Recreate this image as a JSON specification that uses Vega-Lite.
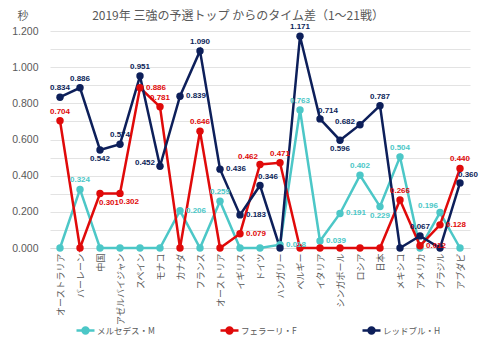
{
  "$schema": "https://vega.github.io/schema/vega-lite/v6.json",
  "width": 420,
  "height": 217,
  "autosize": {"type": "none"},
  "padding": {"left": 50, "top": 31, "right": 10, "bottom": 102},
  "background": "white",
  "title": {"text": "2019年 三強の予選トップ からのタイム差（1～21戦）", "anchor": "middle", "dx": -22, "offset": -13, "fontSize": 12, "font": "Noto Sans CJK JP", "color": "#595959", "fontWeight": "normal"},
  "config": {
    "view": {"stroke": null},
    "axis": {"labelFont": "Liberation Sans", "titleFont": "Noto Sans CJK JP"},
    "legend": {"labelFont": "Noto Sans CJK JP"}
  },
  "data": {"values": [
    {"race": "オーストラリア", "team": "メルセデス・M", "v": 0},
    {"race": "バーレーン", "team": "メルセデス・M", "v": 0.324},
    {"race": "中国", "team": "メルセデス・M", "v": 0},
    {"race": "アゼルバイジャン", "team": "メルセデス・M", "v": 0},
    {"race": "スペイン", "team": "メルセデス・M", "v": 0},
    {"race": "モナコ", "team": "メルセデス・M", "v": 0},
    {"race": "カナダ", "team": "メルセデス・M", "v": 0.206},
    {"race": "フランス", "team": "メルセデス・M", "v": 0},
    {"race": "オーストリア", "team": "メルセデス・M", "v": 0.259},
    {"race": "イギリス", "team": "メルセデス・M", "v": 0},
    {"race": "ドイツ", "team": "メルセデス・M", "v": 0},
    {"race": "ハンガリー", "team": "メルセデス・M", "v": 0.018},
    {"race": "ベルギー", "team": "メルセデス・M", "v": 0.763},
    {"race": "イタリア", "team": "メルセデス・M", "v": 0.039},
    {"race": "シンガポール", "team": "メルセデス・M", "v": 0.191},
    {"race": "ロシア", "team": "メルセデス・M", "v": 0.402},
    {"race": "日本", "team": "メルセデス・M", "v": 0.229},
    {"race": "メキシコ", "team": "メルセデス・M", "v": 0.504},
    {"race": "アメリカ", "team": "メルセデス・M", "v": 0},
    {"race": "ブラジル", "team": "メルセデス・M", "v": 0.196},
    {"race": "アブダビ", "team": "メルセデス・M", "v": 0},
    {"race": "オーストラリア", "team": "フェラーリ・F", "v": 0.704},
    {"race": "バーレーン", "team": "フェラーリ・F", "v": 0},
    {"race": "中国", "team": "フェラーリ・F", "v": 0.301},
    {"race": "アゼルバイジャン", "team": "フェラーリ・F", "v": 0.302},
    {"race": "スペイン", "team": "フェラーリ・F", "v": 0.886},
    {"race": "モナコ", "team": "フェラーリ・F", "v": 0.781},
    {"race": "カナダ", "team": "フェラーリ・F", "v": 0},
    {"race": "フランス", "team": "フェラーリ・F", "v": 0.646},
    {"race": "オーストリア", "team": "フェラーリ・F", "v": 0},
    {"race": "イギリス", "team": "フェラーリ・F", "v": 0.079},
    {"race": "ドイツ", "team": "フェラーリ・F", "v": 0.462},
    {"race": "ハンガリー", "team": "フェラーリ・F", "v": 0.471},
    {"race": "ベルギー", "team": "フェラーリ・F", "v": 0},
    {"race": "イタリア", "team": "フェラーリ・F", "v": 0},
    {"race": "シンガポール", "team": "フェラーリ・F", "v": 0},
    {"race": "ロシア", "team": "フェラーリ・F", "v": 0},
    {"race": "日本", "team": "フェラーリ・F", "v": 0},
    {"race": "メキシコ", "team": "フェラーリ・F", "v": 0.266},
    {"race": "アメリカ", "team": "フェラーリ・F", "v": 0.012},
    {"race": "ブラジル", "team": "フェラーリ・F", "v": 0.128},
    {"race": "アブダビ", "team": "フェラーリ・F", "v": 0.440},
    {"race": "オーストラリア", "team": "レッドブル・H", "v": 0.834},
    {"race": "バーレーン", "team": "レッドブル・H", "v": 0.886},
    {"race": "中国", "team": "レッドブル・H", "v": 0.542},
    {"race": "アゼルバイジャン", "team": "レッドブル・H", "v": 0.574},
    {"race": "スペイン", "team": "レッドブル・H", "v": 0.951},
    {"race": "モナコ", "team": "レッドブル・H", "v": 0.452},
    {"race": "カナダ", "team": "レッドブル・H", "v": 0.839},
    {"race": "フランス", "team": "レッドブル・H", "v": 1.090},
    {"race": "オーストリア", "team": "レッドブル・H", "v": 0.436},
    {"race": "イギリス", "team": "レッドブル・H", "v": 0.183},
    {"race": "ドイツ", "team": "レッドブル・H", "v": 0.346},
    {"race": "ハンガリー", "team": "レッドブル・H", "v": 0},
    {"race": "ベルギー", "team": "レッドブル・H", "v": 1.171},
    {"race": "イタリア", "team": "レッドブル・H", "v": 0.714},
    {"race": "シンガポール", "team": "レッドブル・H", "v": 0.596},
    {"race": "ロシア", "team": "レッドブル・H", "v": 0.682},
    {"race": "日本", "team": "レッドブル・H", "v": 0.787},
    {"race": "メキシコ", "team": "レッドブル・H", "v": 0},
    {"race": "アメリカ", "team": "レッドブル・H", "v": 0.067},
    {"race": "ブラジル", "team": "レッドブル・H", "v": 0},
    {"race": "アブダビ", "team": "レッドブル・H", "v": 0.360}
  ]},
  "encoding": {
    "x": {"field": "race", "type": "ordinal", "sort": null,
      "scale": {"type": "point", "padding": 0.5},
      "axis": {"title": null, "labelAngle": -90, "labelFont": "Noto Sans CJK JP", "labelFontSize": 9, "labelColor": "#595959", "ticks": false, "labelPadding": 5, "domainColor": "#D9D9D9", "grid": false}},
    "y": {"field": "v", "type": "quantitative",
      "scale": {"domain": [0, 1.2], "nice": false},
      "axis": {"title": "秒", "titleAngle": 0, "titleX": -33, "titleY": -15, "titleAlign": "left", "titleBaseline": "middle", "titleFontSize": 11, "titleFontWeight": "normal", "titleColor": "#595959",
        "values": [0, 0.1, 0.2, 0.3, 0.4, 0.5, 0.6, 0.7, 0.8, 0.9, 1.0, 1.1, 1.2],
        "labelExpr": "round(datum.value*10) % 2 == 0 ? format(datum.value, '.3f') : ''",
        "labelFontSize": 10.5, "labelColor": "#595959", "labelPadding": 12, "ticks": false, "domain": false,
        "gridColor": "#E3E3E3", "gridWidth": 1}},
    "color": {"field": "team", "type": "nominal", "sort": null,
      "scale": {"domain": ["メルセデス・M", "フェラーリ・F", "レッドブル・H"], "range": ["#4CC7C7", "#E00A0A", "#0D1F5A"]},
      "legend": {"title": null, "orient": "none", "legendX": 25, "legendY": 289, "direction": "horizontal", "columns": 3, "columnPadding": 60, "gridAlign": "none", "padding": 0,
        "symbolType": "M-1,0H1M-0.33,0A0.33,0.33,0,1,1,0.33,0A0.33,0.33,0,1,1,-0.33,0Z", "symbolSize": 324, "symbolStrokeWidth": 2.5,
        "labelFontSize": 8.5, "labelColor": "#595959", "labelOffset": 1}}
  },
  "layer": [
    {"mark": {"type": "line", "strokeWidth": 2.5}},
    {"mark": {"type": "circle", "size": 55, "opacity": 1}},
    {
      "transform": [
        {"filter": "datum.v > 0"},
        {"calculate": "datum.team + '|' + datum.race", "as": "k"},
        {"calculate": "indexof(['レッドブル・H|カナダ','レッドブル・H|オーストリア','レッドブル・H|イギリス','フェラーリ・F|スペイン','フェラーリ・F|イギリス','フェラーリ・F|アメリカ','フェラーリ・F|ブラジル','メルセデス・M|カナダ','メルセデス・M|ハンガリー','メルセデス・M|イタリア','メルセデス・M|シンガポール'], datum.k) >= 0 ? 'right' : indexof(['レッドブル・H|中国','レッドブル・H|シンガポール','メルセデス・M|日本'], datum.k) >= 0 ? 'below' : indexof(['フェラーリ・F|中国','フェラーリ・F|アゼルバイジャン'], datum.k) >= 0 ? 'belowright' : indexof(['レッドブル・H|モナコ','レッドブル・H|ロシア'], datum.k) >= 0 ? 'left' : indexof(['フェラーリ・F|ドイツ','メルセデス・M|ブラジル'], datum.k) >= 0 ? 'aboveleft' : indexof(['レッドブル・H|イタリア','レッドブル・H|ドイツ','レッドブル・H|アブダビ'], datum.k) >= 0 ? 'aboveright' : 'above'", "as": "pos"}
      ],
      "encoding": {"text": {"field": "v", "type": "quantitative", "format": ".3f"}},
      "layer": [
        {"transform": [{"filter": "datum.pos == 'above'"}], "mark": {"type": "text", "font": "Liberation Sans", "fontSize": 8, "fontWeight": "bold", "dy": -9}},
        {"transform": [{"filter": "datum.pos == 'below'"}], "mark": {"type": "text", "font": "Liberation Sans", "fontSize": 8, "fontWeight": "bold", "dy": 9}},
        {"transform": [{"filter": "datum.pos == 'belowright'"}], "mark": {"type": "text", "font": "Liberation Sans", "fontSize": 8, "fontWeight": "bold", "dy": 9, "dx": 9}},
        {"transform": [{"filter": "datum.pos == 'right'"}], "mark": {"type": "text", "font": "Liberation Sans", "fontSize": 8, "fontWeight": "bold", "align": "left", "dx": 6}},
        {"transform": [{"filter": "datum.pos == 'left'"}], "mark": {"type": "text", "font": "Liberation Sans", "fontSize": 8, "fontWeight": "bold", "align": "right", "dx": -5, "dy": -3}},
        {"transform": [{"filter": "datum.pos == 'aboveleft'"}], "mark": {"type": "text", "font": "Liberation Sans", "fontSize": 8, "fontWeight": "bold", "dy": -7, "dx": -12}},
        {"transform": [{"filter": "datum.pos == 'aboveright'"}], "mark": {"type": "text", "font": "Liberation Sans", "fontSize": 8, "fontWeight": "bold", "dy": -8, "dx": 8}}
      ]
    }
  ]
}
